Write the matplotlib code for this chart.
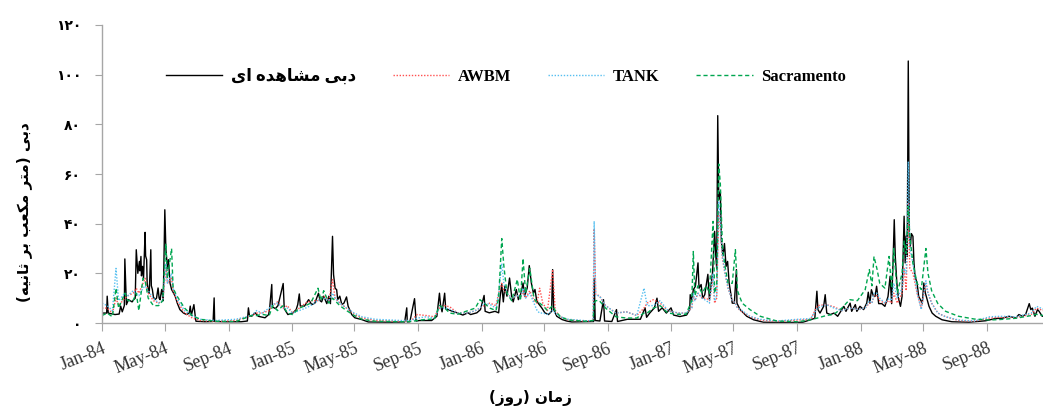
import numpy as np
import matplotlib
matplotlib.use("Agg")
import matplotlib.pyplot as plt
import matplotlib.dates as mdates
from matplotlib import font_manager
from matplotlib.ft2font import FT2Font

# ── data (day 0 = 1984-01-01) ───────────────────────────────────────────────
obs_day = [
    0, 9, 10, 12, 25, 33, 36, 39, 43, 44, 47, 51, 58, 61, 64, 66, 69, 72, 73, 75,
    76, 78, 80, 83, 84, 86, 87, 89, 91, 94, 95, 97, 99, 102, 105, 108, 110, 112, 113, 115,
    117, 118, 121, 123, 125, 126, 128, 131, 134, 141, 145, 150, 157, 163, 168, 170, 172, 177, 180, 181,
    198, 214, 216, 217, 238, 268, 280, 282, 284, 288, 295, 301, 314, 321, 323, 327, 328, 334, 339, 349,
    351, 358, 368, 374, 377, 380, 382, 390, 398, 404, 410, 417, 420, 423, 427, 433, 437, 440, 444, 446,
    449, 452, 454, 458, 462, 466, 471, 474, 481, 487, 500, 513, 556, 583, 587, 588, 593, 602, 605, 612,
    635, 645, 650, 652, 655, 660, 662, 667, 675, 684, 695, 705, 710, 722, 729, 736, 738, 746, 757, 764,
    767, 770, 773, 776, 780, 785, 789, 792, 798, 802, 807, 811, 814, 819, 823, 827, 831, 834, 837, 840,
    847, 853, 860, 866, 868, 870, 876, 886, 895, 905, 928, 947, 948, 950, 959, 966, 968, 982, 991, 993,
    1012, 1037, 1046, 1049, 1055, 1064, 1069, 1072, 1079, 1087, 1096, 1101, 1113, 1126, 1132, 1133, 1136, 1139, 1143, 1148,
    1150, 1154, 1157, 1161, 1167, 1170, 1173, 1176, 1180, 1182, 1184, 1186, 1188, 1191, 1193, 1196, 1199, 1202, 1205, 1208,
    1214, 1218, 1222, 1223, 1229, 1242, 1255, 1274, 1320, 1350, 1364, 1373, 1377, 1379, 1383, 1390, 1393, 1396, 1403, 1410,
    1417, 1425, 1429, 1433, 1441, 1444, 1451, 1454, 1460, 1467, 1473, 1476, 1479, 1482, 1486, 1489, 1492, 1496, 1502, 1508,
    1514, 1518, 1521, 1524, 1526, 1528, 1531, 1534, 1538, 1541, 1545, 1547, 1549, 1551, 1553, 1555, 1557, 1559, 1562, 1564,
    1566, 1570, 1573, 1580, 1583, 1586, 1593, 1599, 1606, 1618, 1637, 1670, 1702, 1721, 1734, 1747, 1760, 1766, 1773, 1779,
    1786, 1789, 1792, 1797, 1802, 1805, 1811, 1826,
]
obs_q = [
    4.0, 4.0, 10.8, 4.0, 3.4, 3.6, 6.8, 4.5, 7.0, 25.8, 7.4, 9.4, 8.5, 9.4, 10.0, 29.5, 20.0, 24.8, 21.0, 26.8,
    19.0, 22.8, 18.0, 36.5, 27.0, 25.5, 16.0, 13.5, 12.0, 29.5, 15.0, 13.5, 10.5, 9.4, 10.0, 14.1, 10.0, 9.4, 11.0, 13.5,
    10.8, 9.0, 45.6, 30.0, 24.8, 22.0, 25.5, 16.1, 13.5, 10.8, 8.0, 5.4, 4.0, 3.4, 4.0, 6.8, 3.0, 7.4, 2.0, 0.7,
    0.5, 0.6, 10.1, 0.6, 0.5, 0.5, 0.8, 6.1, 3.0, 2.7, 4.1, 2.7, 2.1, 3.4, 6.1, 15.5, 6.5, 5.8, 7.0, 15.9,
    5.8, 3.4, 4.1, 5.4, 7.4, 11.7, 6.8, 6.8, 9.4, 7.4, 8.0, 12.0, 9.0, 8.5, 10.8, 7.8, 10.8, 7.8, 34.9, 19.5,
    14.0, 13.4, 9.4, 10.8, 7.4, 8.0, 10.5, 6.8, 3.4, 2.1, 1.4, 0.4, 0.3, 0.4, 6.1, 0.4, 0.5, 9.8, 0.8, 1.0,
    1.0, 2.7, 12.0, 7.4, 4.5, 12.0, 5.8, 5.4, 4.7, 4.1, 3.2, 4.1, 3.4, 4.1, 5.4, 11.1, 4.7, 4.1, 4.7, 4.1,
    10.8, 15.5, 8.5, 14.8, 10.8, 18.1, 10.8, 8.5, 13.5, 9.4, 12.0, 16.1, 10.8, 14.1, 23.1, 16.1, 12.0, 13.5, 9.4, 8.0,
    6.1, 4.1, 3.4, 4.7, 21.5, 5.4, 2.7, 1.4, 0.8, 0.4, 0.5, 0.6, 18.0, 1.0, 0.8, 9.4, 0.8, 0.6, 5.4, 0.6,
    1.5, 1.5, 6.1, 2.3, 4.0, 6.1, 10.0, 4.7, 6.1, 4.0, 6.1, 3.2, 2.6, 3.2, 5.4, 11.4, 9.4, 13.4, 14.8, 24.2,
    14.0, 15.5, 10.0, 11.4, 19.6, 9.4, 14.8, 20.3, 36.9, 28.0, 22.0, 83.5, 49.6, 52.9, 33.0, 27.0, 32.0, 22.8, 24.8, 16.1,
    8.0, 8.0, 21.5, 8.0, 5.4, 2.7, 1.3, 0.3, 0.2, 0.3, 1.3, 1.9, 12.8, 5.4, 4.0, 6.7, 11.4, 4.0, 3.4, 4.0,
    2.7, 5.4, 6.7, 4.7, 8.0, 4.7, 7.4, 4.7, 6.7, 5.4, 8.0, 12.4, 8.0, 13.4, 10.7, 10.7, 14.8, 7.8, 7.8, 6.7,
    10.7, 18.8, 7.8, 26.8, 41.6, 26.8, 16.1, 10.0, 6.7, 10.7, 43.0, 24.2, 35.0, 26.8, 105.5, 34.9, 31.0, 36.0, 34.9, 24.2,
    18.8, 16.1, 10.7, 8.0, 16.1, 12.0, 6.7, 4.0, 2.7, 1.3, 0.5, 0.3, 0.9, 1.8, 1.9, 2.7, 2.0, 3.4, 2.7, 3.4,
    7.8, 5.4, 6.0, 2.7, 5.4, 4.7, 2.7, 3.0,
]

mdl_day = [
    0, 10, 20, 27, 32, 44, 50, 60, 66, 71, 79, 83, 89, 99, 109, 117, 123, 126, 134, 137,
    144, 159, 174, 189, 218, 258, 288, 298, 308, 322, 329, 338, 349, 357, 367, 380, 392, 402, 416, 422,
    427, 437, 444, 449, 458, 471, 486, 501, 526, 576, 595, 607, 625, 640, 650, 660, 670, 685, 705, 719,
    728, 736, 747, 759, 764, 770, 774, 780, 789, 800, 806, 811, 816, 824, 832, 838, 843, 849, 858, 868,
    873, 883, 898, 933, 946, 948, 951, 958, 970, 990, 1010, 1030, 1044, 1050, 1062, 1075, 1090, 1110, 1125, 1136,
    1139, 1142, 1148, 1156, 1164, 1170, 1177, 1180, 1184, 1188, 1191, 1195, 1200, 1206, 1214, 1220, 1224, 1233, 1248, 1268,
    1300, 1340, 1365, 1378, 1395, 1410, 1425, 1440, 1455, 1470, 1478, 1483, 1487, 1493, 1498, 1508, 1516, 1521, 1525, 1532,
    1541, 1545, 1549, 1553, 1556, 1562, 1570, 1578, 1587, 1591, 1598, 1610, 1625, 1650, 1680, 1710, 1730, 1760, 1790, 1800,
    1826,
]
sac_q = [
    3, 4, 2.5, 14, 6, 12, 9, 9, 12, 5, 18, 17, 10, 7, 7, 9, 32, 18, 30, 14,
    11, 6, 3, 1.5, 0.7, 0.6, 3, 3, 3.5, 3, 7, 5, 7, 4, 3.4, 6, 7, 8, 14, 9,
    13, 8, 10, 9, 7, 5, 3, 1.5, 0.7, 0.5, 0.6, 1, 1.5, 1.5, 7, 6, 4, 3.5, 5, 6,
    9.4, 8, 6, 5, 10, 34, 23, 12, 9, 17.5, 9, 26, 12, 22, 10, 8, 8, 7, 5, 7,
    5, 2.5, 1.2, 0.7, 1, 8, 9, 9, 6, 2.5, 2, 2, 4, 4, 6, 7, 4, 3.5, 3.5, 9,
    28.8, 11, 15, 12, 15, 12, 40.9, 12, 16, 64, 56, 31, 22.8, 16, 16, 29.5, 13, 8, 5.4, 2.7,
    0.8, 0.5, 1.3, 2, 3, 3.5, 6, 9.4, 9, 13.4, 21.5, 15, 26.8, 21.5, 16, 14, 26.8, 14, 30, 12,
    20, 33, 28, 46.9, 35, 24, 16, 13.5, 30, 20, 13, 7.8, 4.7, 2.7, 1.6, 1.2, 1.4, 1.9, 3.0, 3.5,
    2.5,
]
tank_q = [
    8, 7, 5, 22, 9, 12, 11, 13, 12, 11, 14, 15, 13, 10, 8, 9, 24, 16, 20, 14,
    10, 5, 3, 1.5, 1, 1.5, 3, 5, 4, 6, 7.5, 8, 6, 6, 4, 5, 6, 7, 9, 10,
    10, 9, 12, 10, 8, 6, 4, 2.5, 1.5, 1, 1, 2, 2.5, 2, 6, 6, 5.5, 4, 4, 5,
    6, 8, 7.5, 6, 12, 24, 16, 12, 10, 11, 10, 14, 10, 12, 8, 5, 4, 4, 3.5, 5,
    4, 2.5, 1.5, 0.9, 1, 41, 11, 11, 7, 4, 4.5, 3, 14, 7, 7, 9, 5, 4, 4, 6,
    12, 9, 12, 10, 9, 8, 20, 9, 11, 49, 40, 27, 20, 14, 9, 8, 6, 5, 2.7, 1.5,
    0.8, 1.5, 1.8, 6, 7.4, 6, 5, 6, 5.5, 6, 9, 8, 12, 12, 10, 8, 10, 9, 16, 10,
    14, 22, 20, 65, 30, 24, 12, 5.4, 17, 12, 8, 4, 2.5, 1.2, 0.8, 2.5, 2.7, 2.5, 4, 6.7,
    4.5,
]
awbm_q = [
    6, 6, 4, 10, 7, 10, 11, 12, 14, 12, 16, 18, 12, 9, 8, 9, 22, 16, 18, 13,
    9, 4, 2, 1, 0.6, 1, 3, 4, 4, 5, 7, 8.5, 6, 7, 4, 6, 8, 9, 9, 10,
    11, 9, 17.5, 10, 8, 6, 3.5, 2, 1, 0.7, 0.8, 3.4, 3, 2.5, 6, 7, 6.5, 4, 4, 5,
    6, 7, 8, 7, 12, 16, 13, 12, 10, 11, 10, 13, 10, 13, 9, 8, 14, 8, 5, 21.5,
    5, 2.5, 1.2, 0.8, 1, 38, 11.4, 11, 7, 4, 4.5, 3, 6, 8, 9.4, 8, 5, 4, 4, 6,
    11, 9, 12, 10, 10, 9, 18, 8, 10, 45, 38, 26, 20, 14, 9, 8, 6, 4.5, 2.5, 1.2,
    0.6, 1.2, 1.5, 7, 7.4, 6.5, 5, 6, 5.5, 6, 8, 8, 11, 11, 9, 8, 9, 8, 12, 8,
    12, 22, 13, 48, 22, 20, 12, 6, 16, 12, 8, 4, 2.5, 1, 0.7, 2, 2.3, 2.2, 3.5, 6,
    4,
]

y_ticks = [0, 20, 40, 60, 80, 100, 120]
y_tick_labels = ["۰", "۲۰", "۴۰", "۶۰", "۸۰", "۱۰۰", "۱۲۰"]
series_labels = ["دبی مشاهده ای", "AWBM", "TANK", "Sacramento"]
x_title = "زمان (روز)"
y_title = "دبی (متر مکعب بر ثانیه)"

# ── minimal Persian shaping (matplotlib has no RTL/joining support) ─────────
FA = "DejaVu Sans"
_cmap = FT2Font(font_manager.findfont(font_manager.FontProperties(family=FA, weight="bold"))).get_charmap()
_has = lambda cps: all(c in _cmap for c in cps)

FORMS = {  # isolated, final, initial, medial
    "ا": (0xFE8D, 0xFE8E, None, None), "د": (0xFEA9, 0xFEAA, None, None),
    "ر": (0xFEAD, 0xFEAE, None, None), "ز": (0xFEAF, 0xFEB0, None, None),
    "و": (0xFEED, 0xFEEE, None, None),
    "ب": (0xFE8F, 0xFE90, 0xFE91, 0xFE92), "ت": (0xFE95, 0xFE96, 0xFE97, 0xFE98),
    "ث": (0xFE99, 0xFE9A, 0xFE9B, 0xFE9C), "ش": (0xFEB5, 0xFEB6, 0xFEB7, 0xFEB8),
    "ع": (0xFEC9, 0xFECA, 0xFECB, 0xFECC), "م": (0xFEE1, 0xFEE2, 0xFEE3, 0xFEE4),
    "ن": (0xFEE5, 0xFEE6, 0xFEE7, 0xFEE8), "ه": (0xFEE9, 0xFEEA, 0xFEEB, 0xFEEC),
    "ی": (0xFBFC, 0xFBFD, 0xFBFE, 0xFBFF), "ک": (0xFB8E, 0xFB8F, 0xFB90, 0xFB91),
}
if not _has(FORMS["ی"]):
    FORMS["ی"] = (0xFEEF, 0xFEF0, 0xFEF3, 0xFEF4)
if not _has(FORMS["ک"]):
    FORMS["ک"] = (0xFED9, 0xFEDA, 0xFEDB, 0xFEDC)


def fa(text):
    out = []
    for i, c in enumerate(text):
        if c not in FORMS:
            out.append(c)
            continue
        f = FORMS[c]
        prev = text[i - 1] if i > 0 else ""
        nxt = text[i + 1] if i + 1 < len(text) else ""
        p = prev in FORMS and FORMS[prev][2] is not None
        n = nxt in FORMS and f[2] is not None
        k = 3 if (p and n) else 1 if p else 2 if n else 0
        out.append(chr(f[k]))
    swap = {"(": ")", ")": "("}
    return "".join(swap.get(c, c) for c in reversed(out))


# ── figure ──────────────────────────────────────────────────────────────────
W, H = 1043, 412
fig = plt.figure(figsize=(W / 100, H / 100), dpi=100, facecolor="white")
ax = fig.add_axes([102 / W, 1 - 323 / H, 948 / W, 298 / H])

t0 = np.datetime64("1984-01-01")
to_dates = lambda d: t0 + np.array(d).astype("timedelta64[D]")

ax.plot(to_dates(obs_day), obs_q, color="black", lw=1.0, label=fa(series_labels[0]))
ax.plot(to_dates(mdl_day), awbm_q, color="#FF5050", lw=1.0, ls=(0, (1, 1.2)), label=series_labels[1])
ax.plot(to_dates(mdl_day), tank_q, color="#55BFF0", lw=1.0, ls=(0, (1, 1.2)), label=series_labels[2])
ax.plot(to_dates(mdl_day), sac_q, color="#00A650", lw=1.0, ls=(0, (3, 2)), label=series_labels[3])

ax.set_xlim(np.datetime64("1984-01-01"), np.datetime64("1988-12-31"))
ax.set_ylim(0, 120)

for s in ("top", "right"):
    ax.spines[s].set_visible(False)
for s in ("left", "bottom"):
    ax.spines[s].set_color("#A6A6A6")
    ax.spines[s].set_linewidth(1.0)

ax.xaxis.set_major_locator(mdates.MonthLocator(bymonth=[1, 5, 9]))
ax.xaxis.set_major_formatter(mdates.DateFormatter("%b-%y"))
ax.tick_params(axis="x", length=6, color="#A6A6A6", pad=6)
for lab in ax.get_xticklabels():
    lab.set(family="Liberation Serif", size=13, color="#333333",
            rotation=22, ha="right", va="top", rotation_mode="anchor")

ax.set_yticks(y_ticks)
ax.set_yticklabels(y_tick_labels, family=FA, weight="bold", size=10)
ax.tick_params(axis="y", length=5, color="#A6A6A6", pad=10)

ax.legend(loc="center", bbox_to_anchor=(0.426, 0.826), ncol=4, frameon=False,
          handlelength=3.4, handletextpad=0.5, columnspacing=2.2,
          prop={"family": ["Liberation Serif", FA], "weight": "bold", "size": 12})

fig.text(530 / W, 1 - 398 / H, fa(x_title), family=FA, weight="bold", size=11,
         ha="center", va="center")
fig.text(24 / W, 1 - 212 / H, fa(y_title), family=FA, weight="bold", size=11,
         ha="center", va="center", rotation=90)

fig.savefig("out.png", dpi=100, facecolor="white")
